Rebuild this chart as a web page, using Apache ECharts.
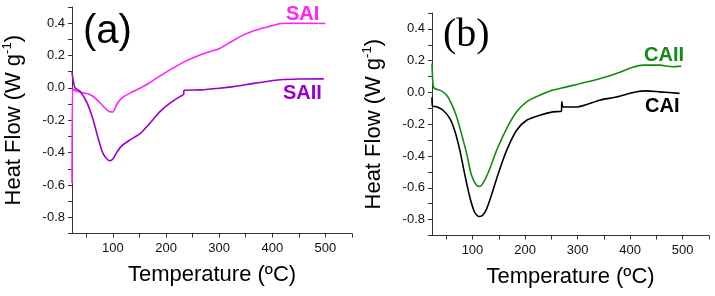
<!DOCTYPE html>
<html>
<head>
<meta charset="utf-8">
<script src="https://cdn.jsdelivr.net/npm/echarts@6/dist/echarts.min.js"></script>
<style>
    html, body { margin: 0; padding: 0; background: #fff; }
    #chart { width: 715px; height: 296px; }
</style>
</head>
<body>
<div id="chart"></div>
<script>
    // temperature (ºC), heat flow (W/g)
    var saI = [[23,-0.59],[24,0.0],[26,-0.01],[32,-0.02],[45,-0.031],[57,-0.041],[70,-0.072],[82,-0.114],[93,-0.146],[100,-0.149],[107,-0.103],[117,-0.062],[133,-0.031],[158,0.01],[183,0.062],[208,0.113],[240,0.17],[265,0.205],[286,0.228],[300,0.242],[325,0.29],[350,0.334],[375,0.363],[400,0.385],[415,0.398],[435,0.40],[500,0.398]]
    var saII = [[23,0.1],[25,0.05],[29,0.0],[38,-0.02],[51,-0.09],[63,-0.2],[73,-0.32],[82,-0.41],[94,-0.45],[100,-0.44],[107,-0.40],[117,-0.357],[133,-0.32],[151,-0.283],[170,-0.217],[189,-0.145],[208,-0.093],[227,-0.052],[233,-0.04],[234,-0.015],[265,-0.012],[300,-0.002],[327,0.008],[360,0.025],[390,0.04],[415,0.05],[450,0.055],[497,0.056]]
    var caII = [[23,0.183],[25,0.046],[28,0.025],[41,0.01],[51,-0.017],[60,-0.07],[70,-0.154],[79,-0.259],[89,-0.385],[98,-0.52],[108,-0.585],[114,-0.591],[123,-0.553],[133,-0.48],[146,-0.364],[165,-0.227],[184,-0.122],[203,-0.059],[228,-0.017],[253,0.015],[266,0.025],[300,0.052],[340,0.085],[374,0.12],[405,0.158],[424,0.172],[456,0.172],[481,0.162],[497,0.166]]
    var caI = [[23,-0.03],[24,-0.086],[32,-0.09],[44,-0.112],[57,-0.164],[66,-0.238],[76,-0.364],[85,-0.511],[95,-0.659],[104,-0.753],[112,-0.78],[119,-0.774],[127,-0.732],[136,-0.648],[149,-0.511],[165,-0.364],[184,-0.238],[203,-0.175],[228,-0.143],[253,-0.122],[269,-0.117],[270,-0.058],[272,-0.09],[278,-0.091],[298,-0.091],[342,-0.049],[374,-0.028],[412,0.004],[431,0.01],[456,0.004],[494,-0.006]]

    var xLabels = [100,200,300,400,500]
    var xTicks = [50,100,150,200,250,300,350,400,450,500,550]
    var yLabels = [-0.8,-0.6,-0.4,-0.2,0,0.2,0.4]
    var yTicks = [-0.9,-0.8,-0.7,-0.6,-0.5,-0.4,-0.3,-0.2,-0.1,0,0.1,0.2,0.3,0.4,0.5]

    var myChart = echarts.init(document.getElementById('chart'))

    function xAxisOf(idx){
        return {
            gridIndex: idx,
            type: 'value',
            min: 23,
            max: 550,
            name: 'Temperature (ºC)',
            nameLocation: 'middle',
            nameGap: 30,
            nameTextStyle: { fontSize: 22, color: '#000', fontFamily: 'Liberation Sans' },
            axisLine: { show: true, onZero: false, lineStyle: { color: '#333', width: 1 } },
            axisTick: { show: true, customValues: xTicks, length: 4, lineStyle: { color: '#333' } },
            axisLabel: { customValues: xLabels, fontSize: 13, color: '#111', margin: 8, fontFamily: 'Liberation Sans' },
            splitLine: { show: false }
        }
    }
    function yAxisOf(idx){
        return {
            gridIndex: idx,
            type: 'value',
            min: -0.9,
            max: 0.5,
            name: '{a|Heat Flow (W g}{s|-1}{a|)}',
            nameLocation: 'middle',
            nameGap: 46,
            nameTextStyle: {
                color: '#000',
                rich: {
                    a: { fontSize: 22, color: '#000', fontFamily: 'Liberation Sans' },
                    s: { fontSize: 13, color: '#000', fontFamily: 'Liberation Sans', padding: [0,0,12,0] }
                }
            },
            axisLine: { show: true, onZero: false, lineStyle: { color: '#333', width: 1 } },
            axisTick: { show: true, customValues: yTicks, length: 4, lineStyle: { color: '#333' } },
            axisLabel: {
                customValues: yLabels, fontSize: 13, color: '#111', margin: 7, fontFamily: 'Liberation Sans',
                formatter: function(v){ return v.toFixed(1) }
            },
            splitLine: { show: false }
        }
    }
    function lineOf(name, data, color, idx){
        return {
            name: name,
            type: 'line',
            xAxisIndex: idx,
            yAxisIndex: idx,
            data: data,
            showSymbol: false,
            smooth: 0.25,
            lineStyle: { color: color, width: 1.6 },
            itemStyle: { color: color },
            z: 3
        }
    }

    var option = {
        animation: false,
        backgroundColor: '#fff',
        grid: [
            { left: 72, top: 7, width: 280, height: 226.5 },
            { left: 432, top: 13, width: 277, height: 222.5 }
        ],
        xAxis: [xAxisOf(0), xAxisOf(1)],
        yAxis: [yAxisOf(0), yAxisOf(1)],
        series: [
            lineOf('SAI', saI, '#ff22ff', 0),
            lineOf('SAII', saII, '#9900cc', 0),
            lineOf('CAII', caII, '#138a13', 1),
            lineOf('CAI', caI, '#000000', 1)
        ],
        graphic: [
            { type: 'text', left: 83, top: 12, style: { text: '(a)', font: '40px "Liberation Sans"', fill: '#000' } },
            { type: 'text', left: 443, top: 15, style: { text: '(b)', font: '40px "Liberation Serif"', fill: '#000' } },
            { type: 'text', left: 286, top: 4, style: { text: 'SAI', font: 'bold 20px "Liberation Sans"', fill: '#ff22ff' } },
            { type: 'text', left: 283, top: 83, style: { text: 'SAII', font: 'bold 20px "Liberation Sans"', fill: '#9900cc' } },
            { type: 'text', left: 644, top: 45, style: { text: 'CAII', font: 'bold 20px "Liberation Sans"', fill: '#138a13' } },
            { type: 'text', left: 645, top: 96, style: { text: 'CAI', font: 'bold 20px "Liberation Sans"', fill: '#000' } }
        ]
    }
    myChart.setOption(option)
</script>
</body>
</html>
